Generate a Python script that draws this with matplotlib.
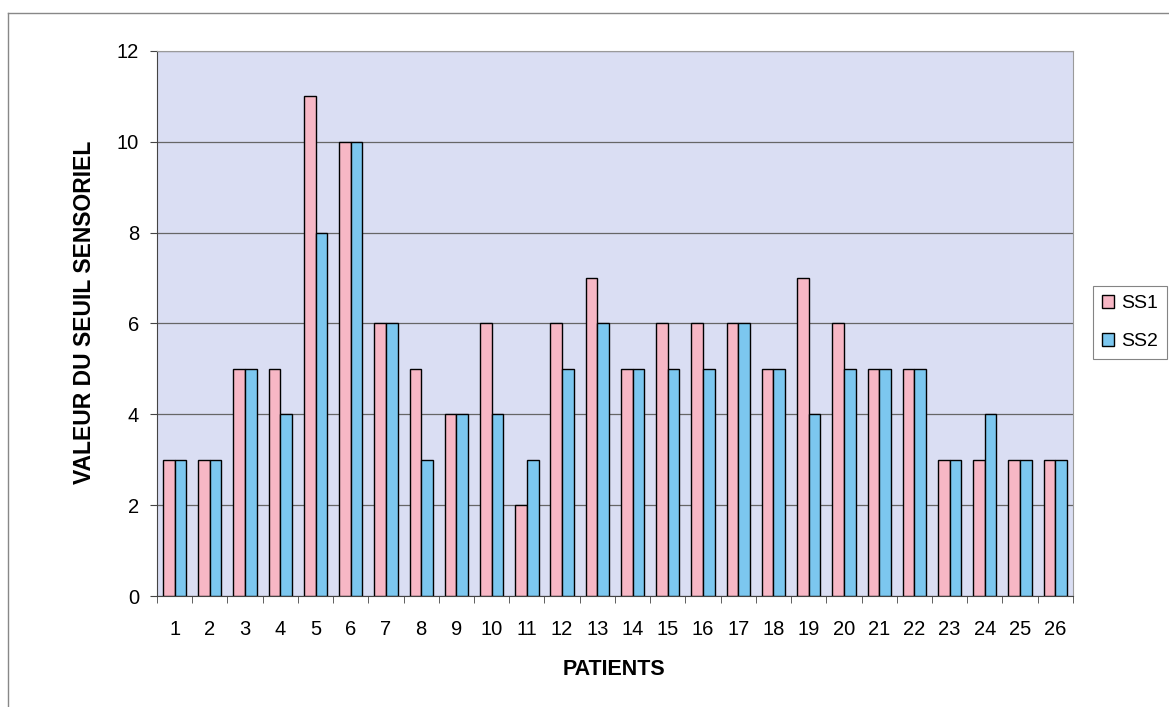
import matplotlib.pyplot as plt
import numpy as np
from matplotlib.lines import Line2D

plt.rcParams["font.family"] = ["Liberation Sans", "DejaVu Sans"]

patients = [str(i) for i in range(1, 27)]
ss1 = [3, 3, 5, 5, 11, 10, 6, 5, 4, 6, 2, 6, 7, 5, 6, 6, 6, 5, 7, 6, 5, 5, 3, 3, 3, 3]
ss2 = [3, 3, 5, 4, 8, 10, 6, 3, 4, 4, 3, 5, 6, 5, 5, 5, 6, 5, 4, 5, 5, 5, 3, 4, 3, 3]

PINK = "#f7b7c5"
BLUE = "#7cc7ef"
BG = "#dadef3"

fig = plt.figure(figsize=(11.69, 7.07), dpi=100)
# chart frame, only its top and left edges are inside the picture
fig.lines.append(Line2D([0.007, 1.0], [0.981, 0.981], transform=fig.transFigure,
                        color="#888888", linewidth=1.0))
fig.lines.append(Line2D([0.007, 0.007], [0.0, 0.981], transform=fig.transFigure,
                        color="#888888", linewidth=1.0))

ax = fig.add_axes([0.1343, 0.157, 0.7835, 0.771])
ax.set_facecolor(BG)

x = np.arange(len(patients))
w = 0.33
ax.bar(x - w / 2, ss1, w, color=PINK, edgecolor="black", linewidth=1.0, label="SS1", zorder=3)
ax.bar(x + w / 2, ss2, w, color=BLUE, edgecolor="black", linewidth=1.0, label="SS2", zorder=3)

ax.set_xlim(-0.5, len(patients) - 0.5)
ax.set_ylim(0, 12)
ax.set_yticks(range(0, 13, 2))
ax.yaxis.grid(True, color="#666666", linewidth=0.9, zorder=1)
ax.set_axisbelow(True)

ax.set_xticks(x)
ax.set_xticklabels(patients, fontsize=14.5)
ax.tick_params(axis="x", which="major", length=0, pad=17)
ax.set_xticks(np.arange(-0.5, len(patients), 1), minor=True)
ax.tick_params(axis="x", which="minor", length=5, direction="out", color="#444444")
ax.tick_params(axis="y", labelsize=14.5, length=5, direction="out", color="#444444", pad=8)

for side in ["top", "right"]:
    ax.spines[side].set_color("#9a9a9a")
ax.spines["left"].set_color("#444444")
ax.spines["bottom"].set_color("#444444")

fig.text(0.525, 0.0537, "PATIENTS", fontsize=15.5, fontweight="bold",
         ha="center", va="center")
fig.text(0.0727, 0.558, "VALEUR DU SEUIL SENSORIEL", fontsize=16.5, fontweight="bold",
         ha="center", va="center", rotation=90)

leg = ax.legend(loc="center left", bbox_to_anchor=(1.022, 0.502), fontsize=14,
                frameon=True, fancybox=False, edgecolor="#666666",
                handlelength=0.65, handleheight=0.65, handletextpad=0.35,
                borderpad=0.45, labelspacing=1.05, borderaxespad=0)
leg.get_frame().set_linewidth(0.8)

fig.savefig("out.png", dpi=100)
